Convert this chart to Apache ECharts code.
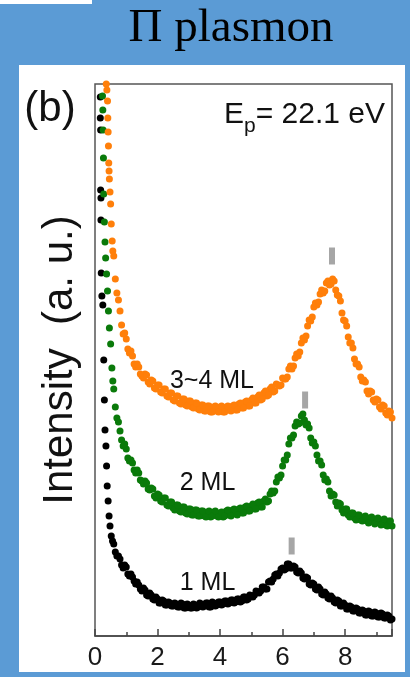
<!DOCTYPE html>
<html>
<head>
<meta charset="utf-8">
<script src="https://cdn.jsdelivr.net/npm/echarts@6/dist/echarts.min.js"></script>
<style>
html, body { margin: 0; padding: 0; background: #5b9bd5; }
#plasmon { width: 410px; height: 677px; }
</style>
</head>
<body>
<div id="plasmon"></div>
<script>
// energy loss grid (eV), whole and half steps
var energy = [0.6,0.7,0.8,0.9,1.0,1.1,1.2,1.3,1.4,1.5,
  1.6,1.7,1.8,1.9,2.0,2.1,2.2,2.3,2.4,2.5,
  2.6,2.7,2.8,2.9,3.0,3.1,3.2,3.3,3.4,3.5,
  3.6,3.7,3.8,3.9,4.0,4.1,4.2,4.3,4.4,4.5,
  4.6,4.7,4.8,4.9,5.0,5.1,5.2,5.3,5.4,5.5,
  5.6,5.7,5.8,5.9,6.0,6.1,6.2,6.3,6.4,6.5,
  6.6,6.7,6.8,6.9,7.0,7.1,7.2,7.3,7.4,7.5,
  7.6,7.7,7.8,7.9,8.0,8.1,8.2,8.3,8.4,8.5,
  8.6,8.7,8.8,8.9,9.0,9.1,9.2,9.3,9.4,9.5];
var energyMid = [0.65,0.75,0.85,0.95,1.05,1.15,1.25,1.35,1.45,
  1.55,1.65,1.75,1.85,1.95,2.05,2.15,2.25,2.35,2.45,
  2.55,2.65,2.75,2.85,2.95,3.05,3.15,3.25,3.35,3.45,
  3.55,3.65,3.75,3.85,3.95,4.05,4.15,4.25,4.35,4.45,
  4.55,4.65,4.75,4.85,4.95,5.05,5.15,5.25,5.35,5.45,
  5.55,5.65,5.75,5.85,5.95,6.05,6.15,6.25,6.35,6.45,
  6.55,6.65,6.75,6.85,6.95,7.05,7.15,7.25,7.35,7.45,
  7.55,7.65,7.75,7.85,7.95,8.05,8.15,8.25,8.35,8.45,
  8.55,8.65,8.75,8.85,8.95,9.05,9.15,9.25,9.35,9.45];

// 1 ML (black)
var ml1 = [92,80,77,68,69,60,59,52,51,45,
  46,40,41,36,37,33,35,31,33,30,
  32,29,32,28,31,28,31,29,32,30,
  33,29,33,31,34,32,35,33,36,34,
  37,35,39,37,40,41,44,45,49,47,
  55,57,62,63,68,67,72,68,69,63,
  63,57,58,51,52,46,47,41,42,37,
  38,33,35,30,31,27,29,25,27,23,
  25,21,24,20,23,19,22,18,20,17];
var ml1Mid = [84,80,71,71,62,62,55,54,47,
  48,41,43,37,39,33,36,31,34,30,
  33,29,33,28,32,28,32,28,33,29,
  33,29,34,30,34,31,35,32,36,33,
  37,34,39,36,41,39,45,43,49,47,
  54,54,61,60,67,66,72,68,70,64,
  65,58,59,52,53,47,49,42,44,38,
  40,34,36,30,33,27,30,25,28,23,
  26,21,25,20,24,19,23,18,21,16];
var ml1HeadE = [0.17,0.17,0.18,0.18,0.19,0.19,0.2,0.22,0.25,0.28,0.3,0.32,0.35,0.37,0.39,0.42,0.45,0.48,0.52,0.56];
var ml1HeadI = [539,518,506,446,438,416,363,340,331,276,236,206,190,170,150,135,120,110,100,95];

// 2 ML (green)
var ml2 = [247,218,205,190,187,175,173,163,163,155,
  155,147,148,140,142,135,138,131,134,128,
  131,125,129,123,127,121,126,120,125,120,
  124,119,124,120,123,119,125,121,126,122,
  127,123,129,125,130,127,133,129,135,134,
  142,143,154,158,170,176,192,198,210,212,
  220,216,212,198,194,181,175,161,157,145,
  142,134,133,126,127,121,123,118,121,116,
  119,115,118,114,117,113,116,111,115,110];
var ml2Mid = [229,214,196,192,178,176,166,166,156,
  152,153,146,147,138,141,134,138,130,134,
  126,131,124,129,122,127,121,126,120,125,
  119,125,120,125,119,124,120,126,120,127,
  121,128,123,130,125,132,127,134,129,137,
  135,145,145,159,161,176,181,198,201,214,
  213,222,211,208,193,190,175,171,156,154,
  140,141,130,132,123,127,119,123,116,121,
  115,120,113,119,112,118,111,117,110,115];
var ml2HeadE = [0.24,0.25,0.26,0.27,0.28,0.3,0.32,0.34,0.37,0.4,0.43,0.46,0.5,0.54,0.57];
var ml2HeadI = [540,526,506,478,442,414,394,378,362,345,325,308,292,268,255];

// 3~4 ML (orange)
var ml34 = [380,343,325,302,297,283,280,269,269,260,
  262,254,256,248,251,244,247,240,243,236,
  240,233,237,231,235,229,233,227,231,225,
  230,224,229,225,229,224,229,226,230,226,
  232,228,234,230,236,233,239,236,243,240,
  247,244,252,250,258,257,267,267,278,280,
  293,296,310,315,329,331,342,343,353,351,
  357,346,340,323,315,299,293,277,272,259,
  256,245,245,236,237,229,231,223,225,218];
var ml34Mid = [357,336,311,303,287,285,272,272,262,
  258,261,252,255,247,251,243,247,239,243,
  235,240,232,237,230,235,228,233,226,231,
  225,230,224,230,224,230,224,230,225,231,
  226,233,228,235,230,238,233,241,237,245,
  241,249,245,251,251,257,259,270,270,282,
  284,298,300,316,319,333,334,346,345,355,
  352,355,341,335,316,310,293,288,272,269,
  255,254,242,244,234,236,227,230,221,224];
var ml34HeadE = [0.36,0.38,0.4,0.41,0.42,0.43,0.44,0.45,0.46,0.48,0.5,0.52,0.55,0.57];
var ml34HeadI = [552,546,535,518,504,490,473,465,457,444,432,412,395,385];

// grey peak markers
var peakE = [6.29, 6.72, 7.58];
var peakI = [90, 236, 380];

// curve labels
var labelText = ['1 ML', '2 ML', '3~4 ML'];
var labelE = [3.6, 3.6, 3.74];
var labelI = [53, 153, 255];

var xTicks = [0, 2, 4, 6, 8];

function pairs(e, v) {
  return e.map(function (x, i) { return [x, v[i]]; });
}

var chart = echarts.init(document.getElementById('plasmon'));

var option = {
  animation: false,
  backgroundColor: '#5b9bd5',
  title: {
    text: 'Π plasmon',
    left: 231,
    top: 5,
    padding: 0,
    textAlign: 'center',
    textStyle: { fontFamily: 'Liberation Serif', fontSize: 47, fontWeight: 'normal', color: '#000' }
  },
  graphic: [
    { type: 'rect', z: -10, shape: { x: 19, y: 65, width: 386, height: 607 }, style: { fill: '#fff' } },
    { type: 'rect', z: -10, shape: { x: 0, y: 0, width: 92, height: 4 }, style: { fill: '#fff' } },
    { type: 'text', x: 50, y: 109, style: { text: '(b)', font: '42px "Liberation Sans"', fill: '#111', align: 'center', verticalAlign: 'middle' } },
    {
      type: 'text', x: 385, y: 100,
      style: {
        text: '{m|E}{s|p}{m|= 22.1 eV}',
        align: 'right', verticalAlign: 'top',
        rich: {
          m: { fontFamily: 'Liberation Sans', fontSize: 30, lineHeight: 30, verticalAlign: 'top', fill: '#111' },
          s: { fontFamily: 'Liberation Sans', fontSize: 21, lineHeight: 21, padding: [16, 0, 0, 0], verticalAlign: 'top', fill: '#111' }
        }
      }
    }
  ],
  grid: {
    left: 95, right: 18, top: 84, bottom: 41,
    show: true, borderColor: '#555', borderWidth: 1.5
  },
  xAxis: [
    {
      type: 'value', min: 0, max: 9.5, interval: 2,
      axisLine: { show: true, lineStyle: { color: '#444', width: 1.5 } },
      axisTick: { show: true, inside: true, length: 7, lineStyle: { color: '#444', width: 1.5 } },
      axisLabel: {
        margin: 9, fontFamily: 'Liberation Sans', fontSize: 26, color: '#1a1a1a',
        formatter: function (v) { return xTicks.indexOf(v) >= 0 ? String(v) : ''; }
      },
      splitLine: { show: false }
    },
    {
      type: 'value', min: 0, max: 9.5, interval: 1, position: 'bottom',
      axisLine: { show: false },
      axisTick: { show: true, inside: true, length: 4, lineStyle: { color: '#444', width: 1.5 } },
      axisLabel: { show: false },
      splitLine: { show: false }
    }
  ],
  yAxis: {
    type: 'value', min: 0, max: 552,
    name: 'Intensity  (a. u.)',
    nameLocation: 'middle',
    nameGap: 14,
    nameTextStyle: { fontFamily: 'Liberation Sans', fontSize: 42, color: '#111' },
    axisLine: { show: false },
    axisTick: { show: false },
    axisLabel: { show: false },
    splitLine: { show: false }
  },
  series: [
    {
      name: '1 ML', type: 'scatter', symbolSize: 7,
      itemStyle: { color: '#000', opacity: 1 },
      data: pairs(ml1HeadE, ml1HeadI).concat(pairs(energy, ml1), pairs(energyMid, ml1Mid))
    },
    {
      name: '2 ML', type: 'scatter', symbolSize: 7,
      itemStyle: { color: '#0a7a0a', opacity: 1 },
      data: pairs(ml2HeadE, ml2HeadI).concat(pairs(energy, ml2), pairs(energyMid, ml2Mid))
    },
    {
      name: '3~4 ML', type: 'scatter', symbolSize: 7,
      itemStyle: { color: '#ff7f0a', opacity: 1 },
      data: pairs(ml34HeadE, ml34HeadI).concat(pairs(energy, ml34), pairs(energyMid, ml34Mid))
    },
    {
      name: 'peak', type: 'scatter', symbol: 'rect', symbolSize: [6, 17],
      itemStyle: { color: '#a6a6a6', opacity: 1 },
      data: pairs(peakE, peakI)
    },
    {
      name: 'labels', type: 'scatter', symbolSize: 1, z: 5,
      itemStyle: { color: 'transparent', opacity: 1 },
      label: {
        show: true, position: 'inside',
        formatter: function (p) { return p.name; },
        fontFamily: 'Liberation Sans', fontSize: 25, color: '#111', opacity: 1
      },
      data: labelText.map(function (t, i) { return { name: t, value: [labelE[i], labelI[i]] }; })
    }
  ]
};

chart.setOption(option);
</script>
</body>
</html>
